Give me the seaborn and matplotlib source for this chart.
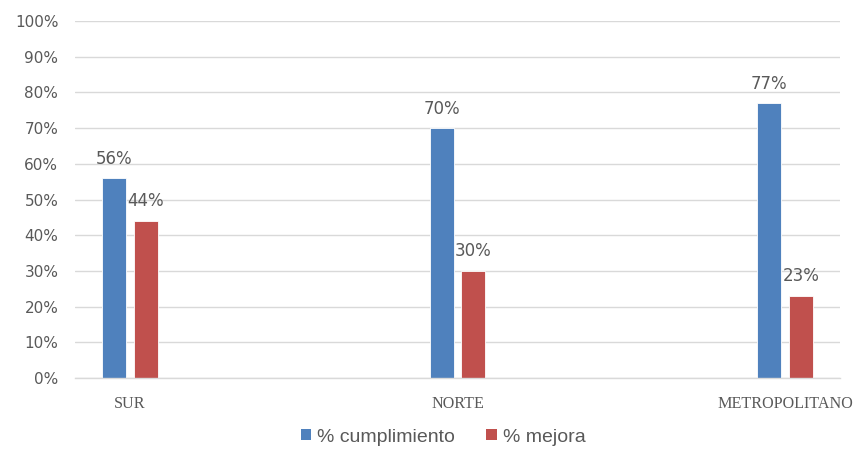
import matplotlib
matplotlib.use("Agg")
import matplotlib.pyplot as plt
from matplotlib.ticker import FuncFormatter, MultipleLocator
from matplotlib.patches import Patch
import pandas as pd
import seaborn as sns

# Zonas y resultados por serie (en %)
zonas = ["SUR", "NORTE", "METROPOLITANO"]
cumplimiento = [56, 70, 77]
mejora = [44, 30, 23]
series = ["% cumplimiento", "% mejora"]
colores = ["#4F81BD", "#C0504D"]

df = pd.DataFrame({
    "zona": zonas * 2,
    "serie": [series[0]] * len(zonas) + [series[1]] * len(zonas),
    "valor": cumplimiento + mejora,
})

sns.set_theme(style="white")
plt.rcParams["font.family"] = ["DejaVu Sans"]

fig = plt.figure(figsize=(8.56, 4.49), dpi=100)
ax = fig.add_axes([75 / 856, 1 - 378 / 449, (840 - 75) / 856, (378 - 21) / 449])

sns.barplot(
    data=df, x="zona", y="valor", hue="serie",
    order=zonas, hue_order=series, palette=colores,
    width=0.1954, gap=0.25, ax=ax, legend=False,
    edgecolor="#FFFFFF", linewidth=0.6, saturation=1,
)

ax.set_xlim(-0.168, 2.168)
ax.set_ylim(0, 100)
ax.yaxis.set_major_locator(MultipleLocator(10))
ax.yaxis.set_major_formatter(FuncFormatter(lambda v, _: f"{v:.0f}%"))
ax.grid(axis="y", color="#D9D9D9", linewidth=1)
ax.set_axisbelow(True)
for s in ["top", "right", "left"]:
    ax.spines[s].set_visible(False)
ax.spines["bottom"].set_color("#D9D9D9")
ax.spines["bottom"].set_linewidth(1)
ax.set_xlabel("")
ax.set_ylabel("")
ax.tick_params(axis="both", length=0)
ax.tick_params(axis="y", labelsize=11, labelcolor="#595959", pad=12)
ax.tick_params(axis="x", pad=13)
for t in ax.get_xticklabels():
    t.set_fontfamily("Liberation Serif")
    t.set_fontsize(11.6)
    t.set_color("#595959")

# Etiquetas de valor sobre cada barra
for cont in ax.containers:
    for bar in cont:
        h = bar.get_height()
        ax.annotate(f"{h:.0f}%", (bar.get_x() + bar.get_width() / 2, h),
                    xytext=(0, 14), textcoords="offset points",
                    ha="center", va="center", fontsize=12, color="#595959")

handles = [Patch(facecolor=c, edgecolor="none") for c in colores]
fig.legend(handles, series, loc="center", bbox_to_anchor=(443 / 856, 1 - 437 / 449),
           ncol=2, frameon=False, handlelength=0.55, handleheight=0.55,
           handletextpad=0.3, columnspacing=1.6,
           prop={"family": "Liberation Sans", "size": 14}, labelcolor="#595959")

fig.savefig("out.png", dpi=100)
